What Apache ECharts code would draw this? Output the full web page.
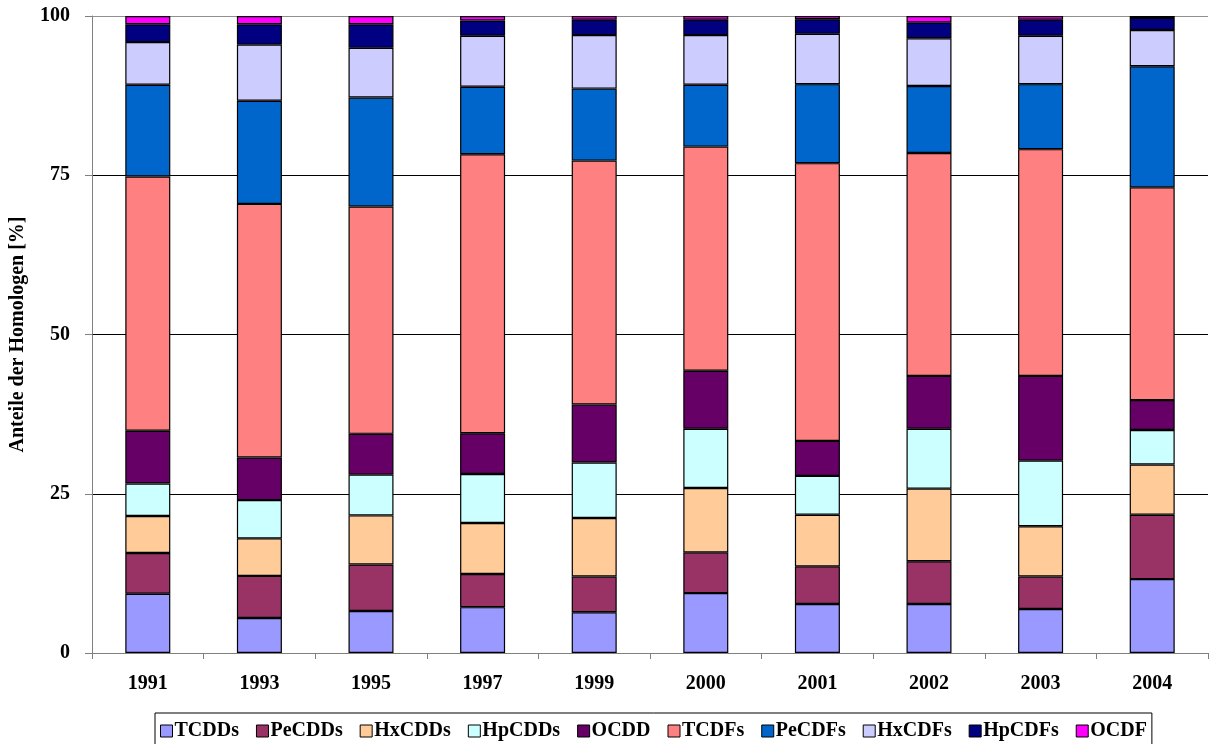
<!DOCTYPE html>
<html>
<head>
<meta charset="utf-8">
<script src="https://cdn.jsdelivr.net/npm/echarts@6/dist/echarts.min.js"></script>
<style>
  html, body { margin: 0; padding: 0; background: #fff; }
  #chart { width: 1214px; height: 744px; }
</style>
</head>
<body>
<div id="chart"></div>
<script>
// Sampling years
const years = ['1991', '1993', '1995', '1997', '1999', '2000', '2001', '2002', '2003', '2004'];

// Homologue shares in percent, one array per homologue group
const TCDDs  = [9.3, 5.5, 6.6, 7.2, 6.4, 9.4, 7.7, 7.7, 6.9, 11.6];
const PeCDDs = [6.4, 6.6, 7.3, 5.2, 5.6, 6.4, 5.9, 6.7, 5.1, 10.1];
const HxCDDs = [5.8, 5.9, 7.7, 8.0, 9.2, 10.1, 8.1, 11.4, 7.9, 7.9];
const HpCDDs = [5.1, 6.0, 6.4, 7.7, 8.7, 9.3, 6.1, 9.4, 10.3, 5.4];
const OCDD   = [8.3, 6.7, 6.4, 6.4, 9.1, 9.1, 5.5, 8.3, 13.3, 4.7];
const TCDFs  = [39.9, 39.8, 35.7, 43.8, 38.3, 35.2, 43.6, 35.0, 35.6, 33.4];
const PeCDFs = [14.4, 16.2, 17.1, 10.6, 11.3, 9.7, 12.4, 10.5, 10.2, 19.0];
const HxCDFs = [6.7, 8.8, 7.8, 8.0, 8.4, 7.8, 7.9, 7.5, 7.6, 5.7];
const HpCDFs = [2.8, 3.2, 3.7, 2.4, 2.4, 2.4, 2.3, 2.5, 2.5, 1.9];
const OCDF   = [1.3, 1.3, 1.3, 0.7, 0.6, 0.6, 0.5, 1.0, 0.6, 0.3];

const yTicks = [0, 25, 50, 75, 100];

const groups = [
  { name: 'TCDDs',  data: TCDDs,  color: '#9999FF' },
  { name: 'PeCDDs', data: PeCDDs, color: '#993366' },
  { name: 'HxCDDs', data: HxCDDs, color: '#FFCC99' },
  { name: 'HpCDDs', data: HpCDDs, color: '#CCFFFF' },
  { name: 'OCDD',   data: OCDD,   color: '#660066' },
  { name: 'TCDFs',  data: TCDFs,  color: '#FF8080' },
  { name: 'PeCDFs', data: PeCDFs, color: '#0066CC' },
  { name: 'HxCDFs', data: HxCDFs, color: '#CCCCFF' },
  { name: 'HpCDFs', data: HpCDFs, color: '#000080' },
  { name: 'OCDF',   data: OCDF,   color: '#FF00FF' }
];

const FONT = 'Liberation Serif';

const chart = echarts.init(document.getElementById('chart'), null, { renderer: 'canvas' });

chart.setOption({
  animation: false,
  backgroundColor: '#ffffff',
  grid: { left: 92, right: 6, top: 16, bottom: 91, containLabel: false },
  legend: {
    top: 713,
    left: 155,
    data: groups.map(g => g.name),
    itemWidth: 12,
    itemHeight: 12,
    itemGap: 17,
    padding: [8, 5, 12, 5],
    borderColor: '#000',
    borderWidth: 1,
    icon: 'rect',
    itemStyle: { borderColor: '#000', borderWidth: 1 },
    textStyle: { fontFamily: FONT, fontWeight: 'bold', fontSize: 20, color: '#000', padding: [0, 0, 0, -3] }
  },
  xAxis: {
    type: 'category',
    data: years,
    axisLine: { lineStyle: { color: '#808080', width: 1 } },
    axisTick: { show: true, length: 6, lineStyle: { color: '#808080' } },
    axisLabel: { fontFamily: FONT, fontWeight: 'bold', fontSize: 20, color: '#000', margin: 21 }
  },
  yAxis: {
    type: 'value',
    min: yTicks[0],
    max: yTicks[yTicks.length - 1],
    interval: yTicks[1] - yTicks[0],
    name: 'Anteile der Homologen [%]',
    nameLocation: 'middle',
    nameRotate: 90,
    nameGap: 64,
    nameTextStyle: { fontFamily: FONT, fontWeight: 'bold', fontSize: 20, color: '#000' },
    axisLine: { show: true, lineStyle: { color: '#808080', width: 1 } },
    axisTick: { show: true, length: 7, lineStyle: { color: '#808080' } },
    axisLabel: { fontFamily: FONT, fontWeight: 'bold', fontSize: 20, color: '#000', margin: 22 },
    splitLine: { show: true, lineStyle: { color: ['#808080', '#000', '#000', '#000', '#909090'], width: 1 } }
  },
  series: groups.map(g => ({
    name: g.name,
    type: 'bar',
    stack: 'total',
    data: g.data,
    barWidth: 45,
    itemStyle: { color: g.color, borderColor: '#000', borderWidth: 1.2 },
    emphasis: { disabled: true }
  }))
});
</script>
</body>
</html>
